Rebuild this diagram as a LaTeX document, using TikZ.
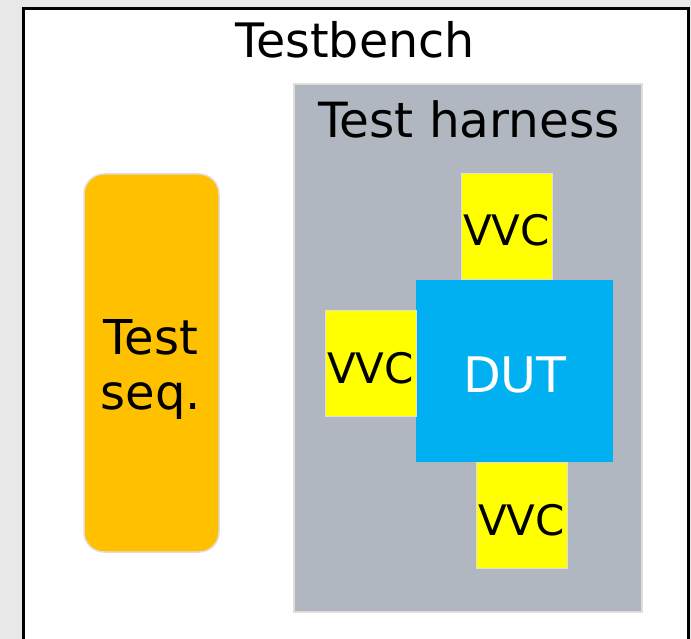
\documentclass[tikz,border=0pt]{standalone}
\usepackage{fontspec}
\setmainfont{DejaVu Sans}
\definecolor{pagebg}{HTML}{E8E8E8}
\definecolor{harness}{HTML}{B0B7C0}
\definecolor{edge}{HTML}{E2DCDA}
\definecolor{seqfill}{HTML}{FFC000}
\definecolor{dutfill}{HTML}{00B0F0}
\definecolor{vvcfill}{HTML}{FFFF00}
\tikzset{
  box/.style={draw=edge, line width=1.5pt},
  label/.style={inner sep=0pt, anchor=base},
  vvctext/.style={font=\fontsize{42}{50}\selectfont},
}
\begin{document}
\begin{tikzpicture}[x=1pt, y=-1pt]
  \useasboundingbox (0,0) rectangle (691,639);
  \fill[pagebg] (0,0) rectangle (691,639);
  % testbench frame
  \draw[fill=white, line width=3pt] (23,9) rectangle (688,660);
  \node[label, font=\fontsize{47.5}{55}\selectfont] (tb) at (355,58) {Testbench};
  % test harness
  \draw[box, fill=harness] (294,84) rectangle (642,612);
  \node[label, font=\fontsize{48.5}{55}\selectfont] (th) at (469,138) {Test harness};
  % test sequencer
  \draw[box, fill=seqfill, rounded corners=20pt] (84,174) rectangle (219,552);
  \node[align=center, inner sep=0pt, font=\fontsize{48}{55}\selectfont] (seq) at (151,369) {Test\\seq.};
  % DUT
  \fill[dutfill] (416,280) rectangle (613,462);
  \node[label, font=\fontsize{49}{55}\selectfont, text=white] (dut) at (515,392) {DUT};
  % VVCs
  \draw[box, line width=1pt, fill=vvcfill] (461,174) rectangle (552,280);
  \node[label, vvctext] (vvct) at (506.5,246) {VVC};
  \draw[box, line width=1pt, fill=vvcfill] (325,310) rectangle (416,416);
  \node[label, vvctext] (vvcl) at (370.5,383) {VVC};
  \draw[box, line width=1pt, fill=vvcfill] (476,462) rectangle (567,568);
  \node[label, vvctext] (vvcb) at (521.5,535) {VVC};
\end{tikzpicture}
\end{document}
